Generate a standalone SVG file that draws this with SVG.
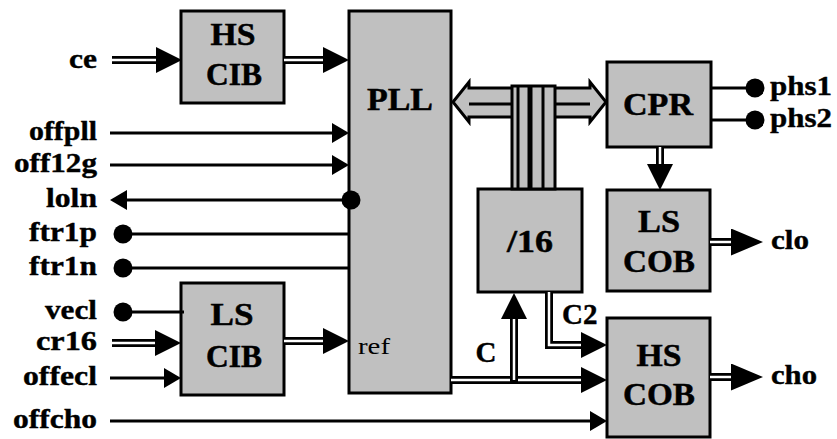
<svg xmlns="http://www.w3.org/2000/svg" width="837" height="439" viewBox="0 0 837 439">
<style>
.box{fill:#c0c0c0;stroke:#000;stroke-width:3}
.bt{font-weight:bold;font-size:32px;text-anchor:middle;fill:#000;stroke:#000;stroke-width:0.5}
.lb{font-weight:bold;font-size:28px;fill:#000;stroke:#000;stroke-width:0.4}
.le{text-anchor:end}
.rg{font-size:24px;fill:#000}
.ln{stroke:#000;stroke-width:3;fill:none}
.dk{stroke:#000;stroke-width:8;fill:none;stroke-linejoin:miter}
.wt{stroke:#fff;stroke-width:2.5;fill:none;stroke-linejoin:miter}
.dot{fill:#000}
.bus{fill:#c0c0c0;stroke:#000;stroke-width:3;stroke-linejoin:miter}
</style>
<defs>
<marker id="ah" viewBox="0 -13 26 26" refX="0" refY="0" markerWidth="26" markerHeight="26" markerUnits="userSpaceOnUse" orient="auto"><path d="M0,-13 L26,0 L0,13 z" fill="#000"/></marker>
<marker id="al" viewBox="0 -13.5 32 27" refX="0" refY="0" markerWidth="32" markerHeight="27" markerUnits="userSpaceOnUse" orient="auto"><path d="M0,-13.5 L32,0 L0,13.5 z" fill="#000"/></marker>
<marker id="as" viewBox="0 -10 17 20" refX="0" refY="0" markerWidth="17" markerHeight="20" markerUnits="userSpaceOnUse" orient="auto"><path d="M0,-10 L17,0 L0,10 z" fill="#000"/></marker>
</defs>

<g font-family="Liberation Serif, Times New Roman, serif">
<g id="hscib"><rect class="box" x="181" y="11" width="103" height="92"/><text class="bt" x="233" y="45" textLength="45" lengthAdjust="spacingAndGlyphs">HS</text><text class="bt" x="234" y="85" textLength="56" lengthAdjust="spacingAndGlyphs">CIB</text></g>
<g id="pll"><rect class="box" x="349" y="11" width="102" height="382"/><text class="bt" x="400" y="110" textLength="66" lengthAdjust="spacingAndGlyphs">PLL</text></g>
<g id="lscib"><rect class="box" x="181" y="283" width="103" height="112"/><text class="bt" x="232" y="325" textLength="43" lengthAdjust="spacingAndGlyphs">LS</text><text class="bt" x="234" y="367" textLength="56" lengthAdjust="spacingAndGlyphs">CIB</text></g>
<g id="div16"><rect class="box" x="478" y="189" width="104" height="103"/><text class="bt" x="530" y="252" textLength="46" lengthAdjust="spacingAndGlyphs">/16</text></g>
<g id="cpr"><rect class="box" x="607" y="62" width="104" height="85"/><text class="bt" x="658" y="115" textLength="70" lengthAdjust="spacingAndGlyphs">CPR</text></g>
<g id="lscob"><rect class="box" x="607" y="190" width="103" height="101"/><text class="bt" x="659" y="232" textLength="42" lengthAdjust="spacingAndGlyphs">LS</text><text class="bt" x="659" y="272" textLength="72" lengthAdjust="spacingAndGlyphs">COB</text></g>
<g id="hscob"><rect class="box" x="607" y="318" width="103" height="119"/><text class="bt" x="659" y="366" textLength="45" lengthAdjust="spacingAndGlyphs">HS</text><text class="bt" x="659" y="405" textLength="72" lengthAdjust="spacingAndGlyphs">COB</text></g>

<g id="connectors">
<path class="dk" d="M112,60 H156" marker-end="url(#ah)"/><path class="wt" d="M112,60 H156"/>
<path class="dk" d="M284,60 H323" marker-end="url(#ah)"/><path class="wt" d="M284,60 H323"/>
<path class="dk" d="M112,343 H155" marker-end="url(#ah)"/><path class="wt" d="M112,343 H155"/>
<path class="dk" d="M284,341 H323" marker-end="url(#ah)"/><path class="wt" d="M284,341 H323"/>
<path class="dk" d="M451,380 H581" marker-end="url(#ah)"/><path class="wt" d="M451,380 H581"/>
<path class="dk" d="M514,384 V319" marker-end="url(#ah)"/><path class="wt" d="M514,380 V319"/>
<path class="dk" d="M549,292 V345 H581" marker-end="url(#ah)"/><path class="wt" d="M549,292 V345 H581"/>
<path class="dk" d="M660,147 V164" marker-end="url(#ah)"/><path class="wt" d="M660,147 V164"/>
<path class="dk" d="M710,242 H731" marker-end="url(#al)"/><path class="wt" d="M710,242 H731"/>
<path class="dk" d="M710,377 H731" marker-end="url(#al)"/><path class="wt" d="M710,377 H731"/>

<path class="ln" d="M110,133 H332" marker-end="url(#as)"/>
<path class="ln" d="M110,165 H332" marker-end="url(#as)"/>
<path class="ln" d="M351,200 H127" marker-end="url(#as)"/>
<circle class="dot" cx="351" cy="200" r="9.5"/>
<path class="ln" d="M123,234 H349"/><circle class="dot" cx="123" cy="234" r="9.5"/>
<path class="ln" d="M123,268 H349"/><circle class="dot" cx="123" cy="268" r="9.5"/>
<path class="ln" d="M123,312 H184"/><circle class="dot" cx="123" cy="312" r="9.5"/>
<path class="ln" d="M110,378 H164" marker-end="url(#as)"/>
<path class="ln" d="M110,421 H590" marker-end="url(#as)"/>
<path class="ln" d="M711,88 H755"/><circle class="dot" cx="755" cy="88" r="9.5"/>
<path class="ln" d="M711,120 H755"/><circle class="dot" cx="755" cy="120" r="9.5"/>

<path class="bus" d="M453,102 L469,82 L469,88 L590,88 L590,82 L606,102 L590,122 L590,117 L469,117 L469,122 Z"/>
<path class="ln" d="M469,104 H590"/>
<rect class="bus" x="512" y="86" width="43" height="103"/>
<path class="ln" d="M518,86 V189 M543,86 V189"/>
<path stroke="#000" stroke-width="5" d="M530,86 V189"/>
</g>

<g id="labels">
<text class="lb le" x="97" y="68" textLength="28" lengthAdjust="spacingAndGlyphs">ce</text>
<text class="lb le" x="97" y="140" textLength="68" lengthAdjust="spacingAndGlyphs">offpll</text>
<text class="lb le" x="97" y="172" textLength="83" lengthAdjust="spacingAndGlyphs">off12g</text>
<text class="lb le" x="97" y="207" textLength="51" lengthAdjust="spacingAndGlyphs">loln</text>
<text class="lb le" x="97" y="241" textLength="68" lengthAdjust="spacingAndGlyphs">ftr1p</text>
<text class="lb le" x="97" y="275" textLength="68" lengthAdjust="spacingAndGlyphs">ftr1n</text>
<text class="lb le" x="97" y="319" textLength="52" lengthAdjust="spacingAndGlyphs">vecl</text>
<text class="lb le" x="97" y="350" textLength="61" lengthAdjust="spacingAndGlyphs">cr16</text>
<text class="lb le" x="97" y="385" textLength="74" lengthAdjust="spacingAndGlyphs">offecl</text>
<text class="lb le" x="97" y="428" textLength="84" lengthAdjust="spacingAndGlyphs">offcho</text>
<text class="lb" x="770" y="95" textLength="62" lengthAdjust="spacingAndGlyphs">phs1</text>
<text class="lb" x="770" y="127" textLength="62" lengthAdjust="spacingAndGlyphs">phs2</text>
<text class="lb" x="771" y="249" textLength="38" lengthAdjust="spacingAndGlyphs">clo</text>
<text class="lb" x="771" y="384" textLength="46" lengthAdjust="spacingAndGlyphs">cho</text>
<text class="lb" x="486" y="362" text-anchor="middle" style="font-size:29px">C</text>
<text class="lb" x="562" y="324" style="font-size:29px">C2</text>
<text class="rg" x="358" y="354" textLength="32" lengthAdjust="spacingAndGlyphs">ref</text>
</g>
</g>
</svg>
